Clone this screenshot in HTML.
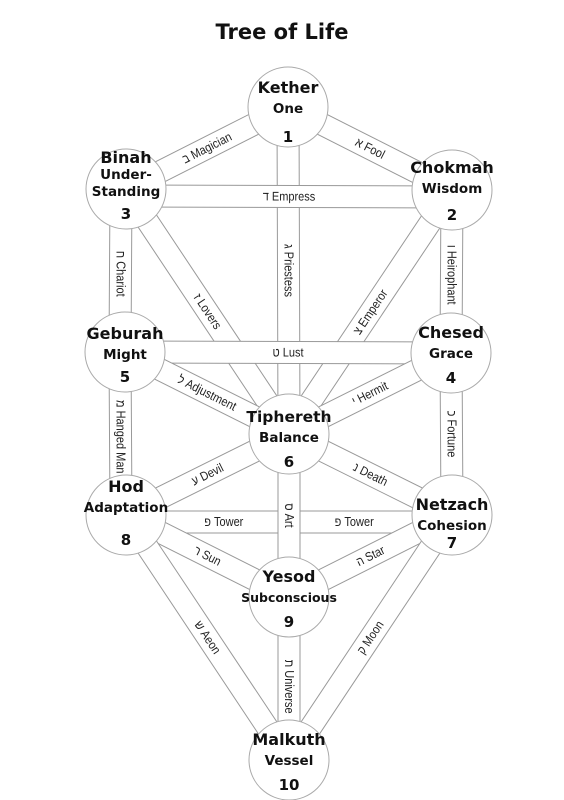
<!DOCTYPE html>
<html><head><meta charset="utf-8">
<style>
html,body{margin:0;padding:0;background:#fff;}
svg{display:block;}
.lbl{font-family:"Liberation Sans","DejaVu Sans",sans-serif;font-size:12.5px;fill:#222;}
.nt{font-family:"DejaVu Sans","Liberation Sans",sans-serif;font-weight:bold;fill:#111;text-anchor:middle;}
</style></head>
<body>
<svg id="tree" width="564" height="800" viewBox="0 0 564 800" xmlns="http://www.w3.org/2000/svg">
<text x="282" y="39" class="nt" style="font-size:21px">Tree of Life</text>
<g id="paths"></g>
<g id="nodes"></g>
</svg>
<script>
const nodeNames = ["Kether","Chokmah","Binah","Chesed","Geburah","Tiphereth","Netzach","Hod","Yesod","Malkuth"];
const nodeSubs = [["One"],["Wisdom"],["Under-","Standing"],["Grace"],["Might"],["Balance"],["Cohesion"],["Adaptation"],["Subconscious"],["Vessel"]];
const nodeNums = ["1","2","3","4","5","6","7","8","9","10"];
const nodeX = [288,452,126,451,125,289,452,126,289,289];
const nodeY = [107,190,189,353,352,434,515,515,597,760];
const pathFrom = [2,0,2,0,1,2,2,1,4,4,3,4,3,7,5,7,7,5,8,7,6,8];
const pathTo   = [0,1,1,5,3,4,5,5,3,5,5,7,6,5,6,6,8,8,6,9,9,9];
const pathNames = ["Magician","Fool","Empress","Priestess","Heirophant","Chariot","Lovers","Emperor","Lust","Adjustment","Hermit","Hanged Man","Fortune","Devil","Death","Tower","Sun","Art","Star","Aeon","Moon","Universe"];
const pathLetters = ["ב","א","ד","ג","ו","ח","ז","צ","ט","ל","י","מ","כ","ע","נ","פ","ר","ס","ה","ש","ק","ת"];
const NS="http://www.w3.org/2000/svg";
const pg=document.getElementById('paths'), ng=document.getElementById('nodes');
const chanOffX={5:-5,11:-5};
const chanOffY={2:7,15:7};
const labelT={3:0.5,4:0.52,5:0.52,11:0.52,12:0.5,17:0.5,21:0.55};
const order=[3,15,0,1,4,5,6,7,8,9,10,11,12,13,14,16,18,19,20,21,2,17];
order.forEach(i=>{
  const a=pathFrom[i], b=pathTo[i];
  const dx0=chanOffX[i]||0, dy0=chanOffY[i]||0;
  const x1=nodeX[a]+dx0, y1=nodeY[a]+dy0, x2=nodeX[b]+dx0, y2=nodeY[b]+dy0;
  const L=Math.hypot(x2-x1,y2-y1), nx=-(y2-y1)/L*11, ny=(x2-x1)/L*11;
  const p=document.createElementNS(NS,'polygon');
  p.setAttribute('points',[x1+nx,y1+ny,x2+nx,y2+ny,x2-nx,y2-ny,x1-nx,y1-ny].join(' '));
  p.setAttribute('fill','#fff');p.setAttribute('stroke','#999');p.setAttribute('stroke-width','1');
  
  
  pg.appendChild(p);
  const drawLabel=(t)=>{
    const cx=x1+(x2-x1)*t, cy=y1+(y2-y1)*t;
    let ang=Math.atan2(y2-y1,x2-x1)*180/Math.PI;
    if(ang>90)ang-=180; if(ang<-90)ang+=180;
    if(Math.abs(Math.abs(ang)-90)<1)ang=90;
    const tx=document.createElementNS(NS,'text');
    tx.setAttribute('class','lbl');tx.setAttribute('text-anchor','middle');
    tx.setAttribute('transform','translate('+cx+','+cy+') rotate('+ang+') scale(0.88,1)');
    tx.setAttribute('y','4');
    tx.textContent=pathLetters[i]+'  '+pathNames[i];
    
    
    pg.appendChild(tx);
  };
  if(i===15){drawLabel(0.3);drawLabel(0.7);} else drawLabel(labelT[i]||0.5);
});
const titleDy=[-19,-22,-31,-20,-18,-17,-10,-28,-20,-20];
nodeNames.forEach((n,i)=>{
  const g=document.createElementNS(NS,'g');
  
  
  const c=document.createElementNS(NS,'circle');
  c.setAttribute('cx',nodeX[i]);c.setAttribute('cy',nodeY[i]);c.setAttribute('r',40);
  c.setAttribute('fill','#fff');c.setAttribute('stroke','#aaa');c.setAttribute('stroke-width','1');
  
  
  g.appendChild(c);
  let y=nodeY[i]+titleDy[i];
  const t=document.createElementNS(NS,'text');
  t.setAttribute('class','nt');t.setAttribute('x',nodeX[i]);t.setAttribute('y',y+5);
  t.setAttribute('style','font-size:'+(n.length>7?15.5:16)+'px');t.textContent=n;
  
  
  g.appendChild(t);
  const subs=nodeSubs[i];
  subs.forEach((s,k)=>{
    const st=document.createElementNS(NS,'text');
    st.setAttribute('class','nt');st.setAttribute('x',nodeX[i]);
    st.setAttribute('y',y+5+(subs.length>1?16:20)+k*17);
    st.setAttribute('style','font-size:'+(s.length>10?12.5:13.5)+'px');st.textContent=s;
    
    
    g.appendChild(st);
  });
  const nm=document.createElementNS(NS,'text');
  nm.setAttribute('class','nt');nm.setAttribute('x',nodeX[i]);nm.setAttribute('y',nodeY[i]+(i===2?30:i===6||i===5?33:i===0?35:30));
  nm.setAttribute('style','font-size:15px');nm.textContent=nodeNums[i];
  
  
  g.appendChild(nm);
  ng.appendChild(g);
});
</script>
</body></html>
